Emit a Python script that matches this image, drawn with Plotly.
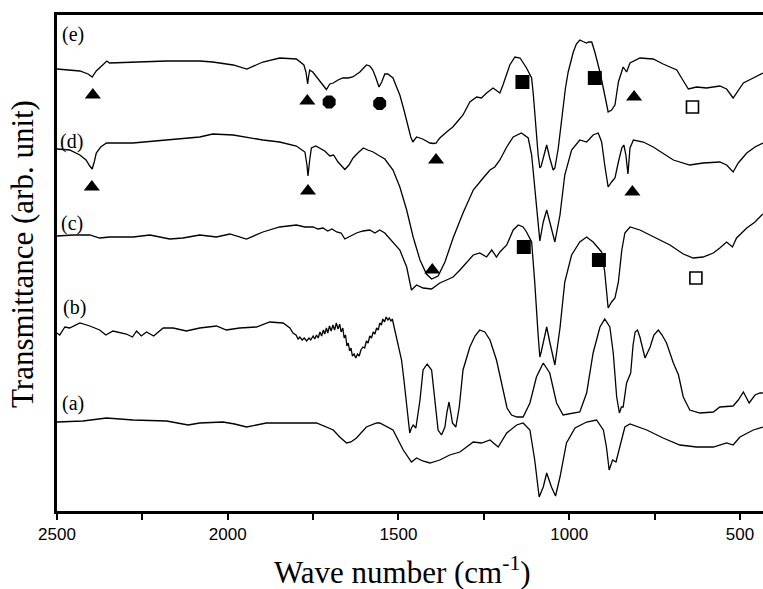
import plotly.graph_objects as go

# ---- data: wavenumber (cm^-1) and transmittance (arb. unit, offset curves) ----
wn_e = [2500,2453,2433,2409,2397,2385,2375,2363,2354,2346,2278,2179,2082,2044,1984,1944,1897,1848,1799,1777,1771,1766,1763,1760,1751,1740,1725,1711,1701,1691,1677,1663,1648,1634,1613,1594,1584,1575,1566,1557,1549,1540,1531,1516,1508,1496,1484,1473,1464,1458,1447,1429,1408,1397,1389,1386,1379,1359,1341,1326,1311,1291,1271,1257,1242,1223,1211,1203,1194,1183,1174,1159,1144,1125,1110,1105,1101,1096,1091,1086,1082,1076,1066,1057,1047,1042,1032,1025,1018,1011,1003,988,979,969,960,949,943,934,925,910,896,886,876,866,856,846,842,832,822,793,754,725,685,671,651,627,598,559,539,520,505,490,461,433]
tr_e = [442,441,440,437,434,440,443,447,450,448,449,450,450,449,446,442,449,453,452,446,439,427,435,441,439,434,428,421.5,427,428,431,433,433,434,439,446,445,441,433,424,429,437,437,433,426,416,401,386,374,369,374,372,368,367.5,368,370,373,379,384,390,396,409,414,413,418,423,420,418,426,436,446,454,453,443,433,416,396,376,356,343,345,353,366,353,341,343,363,383,406,423,439,459,467,471,469.5,468,469,469,459,439,416,399,401,406,429,441,444,439,448,453,452,447,441,433,422,424,423,425,422,413,421,428,433,438]

wn_d = [2500,2463,2433,2415,2404,2397,2391,2385,2372,2355,2278,2179,2082,2044,1984,1897,1848,1799,1774,1768,1765,1760,1755,1742,1730,1716,1701,1690,1677,1657,1645,1633,1619,1603,1590,1574,1560,1545,1540,1516,1496,1476,1457,1437,1418,1403,1384,1364,1340,1311,1281,1252,1232,1218,1203,1183,1164,1140,1120,1110,1101,1091,1086,1076,1066,1057,1042,1027,1013,993,969,949,930,915,905,896,886,876,866,856,846,840,834,828,822,812,783,754,725,695,647,608,559,539,520,505,480,456,433]
tr_d = [362,361,356,351,345,342,349,358,364,368,368,371,374,377,376,371,369,365,359,346,335,351,363,365,363,360,355,356,349,341.5,346,353,358,363,361,359,356,353,352,341,324,301,274,251,237,232,235,249,273,298,321,333,341,344,351,364,374,378,373,356,323,289,270,289,301,289,269,296,336,361,371,369,376,378,369,346,324,329,333,349,363,366,356,337,363,371,369,364,358,351,346,348,349,346,339,348,358,364,368]

wn_c = [2500,2453,2404,2375,2346,2277,2228,2170,2131,2082,2033,1994,1945,1897,1848,1799,1774,1750,1736,1721,1707,1695,1681,1668,1657,1642,1623,1604,1584,1569,1555,1540,1516,1496,1476,1462,1447,1428,1403,1379,1359,1340,1320,1301,1281,1262,1242,1227,1213,1203,1183,1164,1149,1135,1125,1110,1105,1101,1091,1086,1082,1076,1066,1057,1042,1027,1013,993,969,949,930,915,905,896,886,876,866,856,846,837,822,793,754,705,666,637,608,578,559,539,522,510,480,456,433]
tr_c = [275,276,276,273,274,274,276,272,273,276,274,277,272,279,284,286,284,284,282,283,280,282,279,278,272,275,278,280,281,278,281,278,269,261,244,221,226,223,222,228,231,234,241,248,256,258,254,261,254,259,266,281,286,284,279,269,251,229,176,154,159,169,184,169,146,183,229,256,269,274,269,263,259,239,203,209,213,229,261,278,284,281,274,266,257,253,254,258,263,269,264,273,283,289,297]

wn_b = [2500,2492,2477,2463,2433,2404,2375,2357,2336,2297,2279,2267,2253,2238,2217,2189,2160,2121,2082,2033,2004,1965,1916,1877,1838,
        1818,1809,1800,1794,1789,1782,1776,1769,1762,1757,1750,1745,1740,1735,1730,1725,1720,1716,1711,1707,1702,1697,1692,1687,1682,1677,1672,1668,1663,1659,1655,1651,1647,1643,1639,1635,1630,1625,1620,1615,1610,1604,1599,1594,1589,1584,1579,1574,1569,1564,1559,1555,1550,1546,1541,1536,1531,1527,1522,1518,1514,1511,
        1502,1491,1484,1476,1467,1462,1457,1449,1443,1437,1428,1416,1403,1393,1384,1374,1364,1358,1352,1347,1342,1332,1322,1311,1291,1276,1262,1247,1232,1213,1193,1182,1169,1153,1135,1115,1096,1076,1057,1037,1018,988,969,949,930,910,896,881,871,861,853,847,842,832,820,813,807,800,793,778,763,752,739,728,715,695,680,666,647,617,578,559,520,505,490,473,456,441,433]
tr_b = [178,176,184,183,188,185,181,176,180,177,174,180,175,179,175,183,183,180,183,185,181,183,184,189,188,
        183,178,176,172,174,171,173,170,173,171,175,172,176,173,179,175,181,177,183,178,185,180,186,181,188,182,187,179,183,173,176,165,168,160,163,155,157,153,157,155,161,164,163,170,168,175,173,179,177,183,181,188,186,192,189,194,191,193,190,192,186,179,
        166,151,131,108,78,83,86,83,96,111,141,147,141,111,81,76,84,99,109,99,88,84,104,141,164,175,181,179,171,151,118,103,96,94,94,108,134,148,138,108,96,98,99,118,158,184,192,184,158,114,98,104,104,128,138,166,179,181,174,153,164,176,181,176,168,148,136,114,101,98,99,104,105,111,119,108,116,118,118]

wn_a = [2500,2424,2355,2277,2179,2146,2116,2082,2014,1980,1945,1887,1818,1740,1691,1672,1652,1639,1623,1594,1564,1555,1516,1486,1462,1447,1429,1408,1379,1350,1320,1281,1257,1232,1208,1183,1154,1135,1115,1101,1088,1076,1066,1052,1040,1027,1008,983,949,920,900,891,883,873,863,851,837,822,773,725,676,627,578,539,520,500,461,433]
tr_a = [89,90,93,91,90,88,86,88,89,87,84,88,88,88,81,74,68,69,73,84,88,88,81,61,49,53,50,48,51,56,59,69,68,71,64,78,86,88,81,51,14,24,38,24,15,34,68,83,89,91,81,64,41,51,49,64,84,87,81,73,66,64,64,68,66,74,81,84]

# band markers
tri_wn = [2395,1767,810,2398,1765,815,1390,1401]
tri_tr = [416,410,414,324,320,319,351,241]
oct_wn = [1703,1555]
oct_tr = [409,407.5]
sq_wn = [1137,925,1133,913]
sq_tr = [429,433,264,251]
osq_wn = [639,629]
osq_tr = [404,233]

labels = ["(e)", "(d)", "(c)", "(b)", "(a)"]
label_wn = [2492,2497,2493,2487,2492]
label_tr = [477,370,288,203.5,108]

major_ticks = [2500, 2000, 1500, 1000, 500]
major_text = ["2500", "2000", "1500", "1000", "500"]
minor_ticks = [2250, 1750, 1250, 750]

fig = go.Figure()
for wn, tr in [(wn_e, tr_e), (wn_d, tr_d), (wn_c, tr_c), (wn_b, tr_b), (wn_a, tr_a)]:
    fig.add_trace(go.Scatter(x=wn, y=tr, mode="lines",
                             line=dict(color="black", width=1.3), showlegend=False,
                             hoverinfo="skip"))

fig.add_trace(go.Scatter(x=tri_wn, y=tri_tr, mode="markers", showlegend=False,
                         marker=dict(symbol="triangle-up", size=14, color="black", line=dict(width=0))))
fig.add_trace(go.Scatter(x=oct_wn, y=oct_tr, mode="markers", showlegend=False,
                         marker=dict(symbol="octagon", size=14, color="black", line=dict(width=0))))
fig.add_trace(go.Scatter(x=sq_wn, y=sq_tr, mode="markers", showlegend=False,
                         marker=dict(symbol="square", size=14, color="black", line=dict(width=0))))
fig.add_trace(go.Scatter(x=osq_wn, y=osq_tr, mode="markers", showlegend=False,
                         marker=dict(symbol="square-open", size=12, color="black", line=dict(width=1.6))))

serif = "Liberation Serif, Times New Roman, serif"
for t, x, y in zip(labels, label_wn, label_tr):
    fig.add_annotation(x=x, y=y, text=t, showarrow=False, xanchor="left", yanchor="middle",
                       font=dict(family=serif, size=20, color="black"))

fig.add_annotation(xref="paper", yref="paper", x=(402-57)/706, y=-(570-511)/496,
                   text="Wave number (cm<sup>-1</sup>)", showarrow=False,
                   xanchor="center", yanchor="middle",
                   font=dict(family=serif, size=31, color="black"))
fig.add_annotation(xref="paper", yref="paper", x=-(57-23)/706, y=(511-254)/496,
                   text="Transmittance (arb. unit)", showarrow=False, textangle=-90,
                   xanchor="center", yanchor="middle",
                   font=dict(family=serif, size=31, color="black"))

fig.update_layout(
    width=763, height=589, autosize=False,
    margin=dict(l=57, r=0, t=15, b=78),
    paper_bgcolor="white", plot_bgcolor="white",
    showlegend=False,
    xaxis=dict(range=[2500, 432.5], tickmode="array", tickvals=major_ticks, ticktext=major_text,
               ticks="outside", ticklen=6, tickwidth=2, tickcolor="black",
               minor=dict(tickmode="array", tickvals=minor_ticks, ticks="outside",
                          ticklen=6, tickwidth=2, tickcolor="black", showgrid=False),
               showline=True, linewidth=2.5, linecolor="black", mirror=True,
               showgrid=False, zeroline=False,
               tickfont=dict(family="Liberation Sans, Arial, sans-serif", size=17, color="black")),
    yaxis=dict(range=[0, 496], showticklabels=False, ticks="",
               showline=True, linewidth=2.5, linecolor="black",
               showgrid=False, zeroline=False),
)

fig.write_html("out.html", config={"displayModeBar": False},
               post_script="document.body.style.margin='0px';")
